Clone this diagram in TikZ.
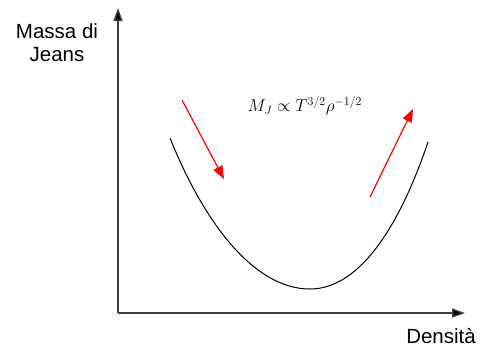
\documentclass[tikz,border=0pt]{standalone}
\usepackage{fontspec}
\setmainfont{Liberation Serif}
\setsansfont{Liberation Sans}
\usetikzlibrary{arrows.meta}
\begin{document}
\begin{tikzpicture}[x=1pt,y=-1pt,
  axis/.style={draw=black!75,line width=1.3pt,-{Triangle[length=13pt,width=9pt,fill=black]}},
  redarrow/.style={draw=red,line width=1.2pt,-{Triangle[length=13pt,width=10pt]}},
  lbl/.style={font=\sffamily\fontsize{20.5}{23}\selectfont,align=center,text=black}]
\useasboundingbox (0,0) rectangle (481,349);
\coordinate (O) at (118,313);
\coordinate (ytip) at (118,8);
\coordinate (xtip) at (465,313);
\draw[axis] (O) -- (ytip);
\draw[axis] (O) -- (xtip);
\node[lbl] (ylab) at (57,43) {Massa di\\Jeans};
\node[lbl] (xlab) at (441,336) {Densità};
\coordinate (c1) at (170,138);
\coordinate (cb) at (310,289);
\coordinate (c2) at (428,142);
\draw[line width=1pt] (c1) .. controls (205,225) and (255,289) .. (cb) .. controls (360,289) and (400,225) .. (c2);
\coordinate (a1s) at (182,100);
\coordinate (a1e) at (224,179);
\coordinate (a2s) at (370,197);
\coordinate (a2e) at (413,109);
\draw[redarrow] (a1s) -- (a1e);
\draw[redarrow] (a2s) -- (a2e);
\node (formula) at (305,106) {\fontsize{17}{20}\selectfont $M_J\propto T^{3/2}\rho^{-1/2}$};
\end{tikzpicture}
\end{document}
